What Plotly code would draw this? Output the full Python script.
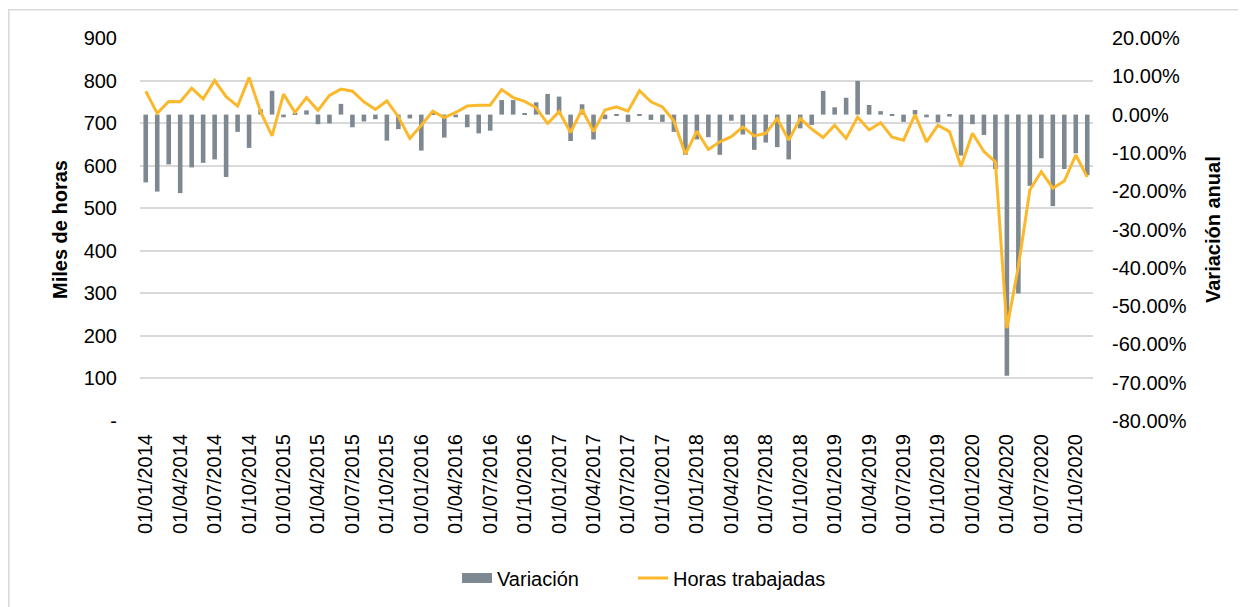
import plotly.graph_objects as go

# Monthly categories Jan 2014 .. Nov 2020
categories = [f"01/{m:02d}/{y}" for y in range(2014, 2021) for m in range(1, 13)][:83]

# Horas trabajadas (miles de horas) - left axis
horas = [775, 723, 751, 750, 782, 757, 800, 762, 740, 807, 727, 670,
         768, 725, 760, 730, 765, 780, 775, 750, 732, 752, 715, 664,
         695, 728, 713, 725, 740, 742, 742, 779, 760, 751, 736, 699,
         727, 678, 732, 680, 731, 738, 728, 776, 750, 738, 705, 627,
         681, 638, 656, 668, 691, 670, 676, 711, 660, 711, 686, 666,
         695, 664, 714, 684, 701, 667, 660, 720, 656, 695, 680, 598,
         676, 633, 609, 218, 363, 543, 586, 547, 564, 625, 573]

# Variación anual (%) - right axis
variacion = [-17.7, -20.1, -13.0, -20.5, -13.8, -12.6, -11.7, -16.3, -4.5, -8.7, 1.4, 6.2,
             -0.7, 0.5, 1.1, -2.5, -2.3, 2.8, -3.3, -1.8, -1.2, -6.8, -3.8, -1.0,
             -9.4, 0.3, -6.0, -0.7, -3.3, -4.9, -4.2, 3.8, 3.8, 0.2, 3.2, 5.4,
             4.7, -6.9, 2.7, -6.5, -1.2, -0.2, -1.9, -0.3, -1.4, -1.9, -4.5, -10.5,
             -6.5, -5.9, -10.5, -1.6, -5.2, -9.2, -7.3, -8.5, -11.7, -3.6, -2.7, 6.2,
             1.9, 4.4, 8.8, 2.5, 0.9, -0.3, -1.9, 1.2, -0.7, -2.0, -0.5, -10.7,
             -2.5, -5.3, -14.2, -68.2, -46.7, -18.6, -11.4, -23.9, -14.2, -10.1, -15.8]

x_ticklabels = categories[::3]
left_ticks = [0, 100, 200, 300, 400, 500, 600, 700, 800, 900]
left_ticktext = ["-", "100", "200", "300", "400", "500", "600", "700", "800", "900"]
right_ticks = [20, 10, 0, -10, -20, -30, -40, -50, -60, -70, -80]
right_ticktext = ["20.00%", "10.00%", "0.00%", "-10.00%", "-20.00%", "-30.00%", "-40.00%",
                  "-50.00%", "-60.00%", "-70.00%", "-80.00%"]

FONT = "Liberation Sans, Arial, sans-serif"
BAR_COLOR = "#7E8890"
LINE_COLOR = "#FBB82B"
GRID = "#D9D9D9"

fig = go.Figure()
fig.add_trace(go.Bar(x=categories, y=variacion, name="Variación", marker_color=BAR_COLOR,
                     marker_line_width=0, width=0.4, yaxis="y", showlegend=False))
fig.add_trace(go.Scatter(x=categories, y=horas, name="Horas trabajadas", mode="lines",
                         line=dict(color=LINE_COLOR, width=3), yaxis="y2", legend="legend2"))
# legend-only entry shaped like the reference's wide bar swatch
fig.add_trace(go.Scatter(x=[None], y=[None], name="Variación", mode="lines",
                         line=dict(color=BAR_COLOR, width=11), yaxis="y", legend="legend"))

# page has an 8px body margin -> work in reference coords and subtract 8
OFF = 8
W, H = 1246 - OFF, 607 - OFF
L, T = 140 - OFF, 38 - OFF
R = W - (1093 - OFF)
B = H - (421 - OFF)
pw, ph = W - L - R, H - T - B

def px(xr):
    return (xr - OFF - L) / pw

def py(yr):
    return (H - B - (yr - OFF)) / ph

fig.update_layout(
    width=W, height=H,
    margin=dict(l=L, r=R, t=T, b=B, autoexpand=False),
    paper_bgcolor="white", plot_bgcolor="white",
    font=dict(family=FONT, size=20, color="#000000"),
    showlegend=True,
    legend=dict(x=px(457), xanchor="left", y=py(578), yanchor="middle",
                font=dict(size=20), bgcolor="rgba(0,0,0,0)"),
    legend2=dict(x=px(633), xanchor="left", y=py(578), yanchor="middle",
                 font=dict(size=20), bgcolor="rgba(0,0,0,0)"),
    xaxis=dict(type="category", range=[-0.5, 82.5], tickmode="array",
               tickvals=x_ticklabels, ticktext=x_ticklabels, tickangle=-90,
               showgrid=False, showline=False, ticks="", ticklabelstandoff=8,
               tickfont=dict(size=20)),
    yaxis=dict(side="right", range=[-80, 20], tickmode="array", tickvals=right_ticks,
               ticktext=right_ticktext, showgrid=False, zeroline=False,
               showline=False, ticks="", ticklabelstandoff=18, tickfont=dict(size=20)),
    yaxis2=dict(side="left", overlaying="y", range=[0, 900], tickmode="array",
                tickvals=left_ticks, ticktext=left_ticktext, showgrid=True,
                gridcolor=GRID, gridwidth=1.5, zeroline=False, showline=False,
                ticks="", ticklabelstandoff=22, tickfont=dict(size=20)),
    bargap=0.6,
    annotations=[
        dict(text="<b>Miles de horas</b>", x=px(60), y=py(230), xref="paper", yref="paper",
             textangle=-90, showarrow=False, font=dict(size=20), xanchor="center", yanchor="middle"),
        dict(text="<b>Variación anual</b>", x=px(1213), y=py(230), xref="paper", yref="paper",
             textangle=-90, showarrow=False, font=dict(size=20), xanchor="center", yanchor="middle"),
    ],
    shapes=[
        dict(type="rect", xref="paper", yref="paper", x0=px(8.8), x1=px(1400), y0=py(800), y1=py(9.8),
             line=dict(color=GRID, width=1.5), fillcolor="rgba(0,0,0,0)", layer="below"),
    ],
)

fig.write_html("out.html")
